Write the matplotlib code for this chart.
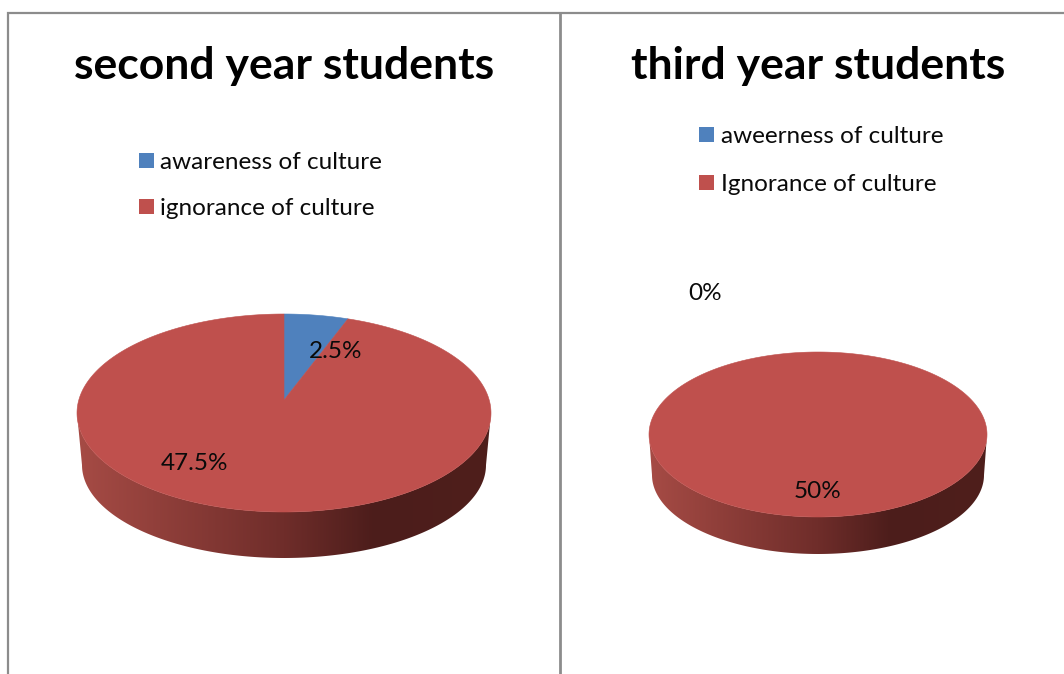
import numpy as np
import matplotlib
matplotlib.use("Agg")
import matplotlib.pyplot as plt
from matplotlib.colors import LinearSegmentedColormap
from matplotlib.patches import Polygon, Rectangle

plt.rcParams["font.family"] = ["Lato", "DejaVu Sans"]

# Chart content
second_title = "second year students"
second_categories = ["awareness of culture", "ignorance of culture"]
second_values = [2.5, 47.5]
third_title = "third year students"
third_categories = ["aweerness of culture", "Ignorance of culture"]
third_values = [0, 50]

BLUE = "#4f81bd"
RED = "#bf504d"
FRAME = "#8c8c8c"
INK = "#0a0a0a"
LABEL_SIZE = 17.5
TITLE_SIZE = 32
side_shade = LinearSegmentedColormap.from_list(
    "side", [(0, "#a64b45"), (0.5, "#6f2d2a"), (0.72, "#4c1d1b"), (1, "#4f1f1c")]
)

W, H = 1064, 674
fig = plt.figure(figsize=(W / 100, H / 100), dpi=100, facecolor="white")
ax = fig.add_axes([0, 0, 1, 1])
ax.set_xlim(0, W)
ax.set_ylim(H, 0)
ax.axis("off")

# Panel rules
ax.plot([8, 8, W], [H, 13, 13], color=FRAME, lw=1.6, solid_joinstyle="miter")
ax.plot([560, 560], [13, H], color=FRAME, lw=2)


def draw_pie(values, cx, cy, rx, ry, apex_y, low_cy, low_rx, low_ry):
    # Side wall: lower rim of the top face joined to the lower rim of the base
    t = np.linspace(0, np.pi, 200)
    top_rim = np.column_stack([cx + rx * np.cos(t), cy + ry * np.sin(t)])
    low_rim = np.column_stack([cx + low_rx * np.cos(t), low_cy + low_ry * np.sin(t)])
    wall = Polygon(np.vstack([top_rim, low_rim[::-1]]), closed=True,
                   facecolor="none", edgecolor="none")
    ax.add_patch(wall)
    img = ax.imshow(np.linspace(0, 1, 256)[None, :], cmap=side_shade, aspect="auto",
                    extent=[cx - rx, cx + rx, low_cy + low_ry, cy], zorder=2)
    img.set_clip_path(wall)
    ax.set_xlim(0, W)
    ax.set_ylim(H, 0)

    # Top face: slices run clockwise from twelve o'clock
    shares = np.asarray(values, dtype=float) / np.sum(values)
    colours = [BLUE, RED]
    start = 0.0
    for share, colour in zip(shares, colours):
        if share > 0:
            a = np.linspace(start, start + share, 400) * 2 * np.pi
            rim = np.column_stack([cx + rx * np.sin(a), cy - ry * np.cos(a)])
            if share < 1:
                pts = np.vstack([[cx, apex_y], rim])
            else:
                pts = rim
            ax.add_patch(Polygon(pts, closed=True, facecolor=colour,
                                 edgecolor=colour, lw=0.4, zorder=3))
        start += share


def draw_legend(categories, x, ys):
    for name, colour, y in zip(categories, [BLUE, RED], ys):
        ax.add_patch(Rectangle((x, y - 7.5), 15, 15, facecolor=colour,
                               edgecolor="none", zorder=4))
        ax.text(x + 22, y, name, fontsize=LABEL_SIZE, color=INK,
                va="center_baseline", ha="left", zorder=5)


def pct(v):
    return f"{v:g}%"


# Second year panel
ax.text(284, 62.5, second_title, fontsize=TITLE_SIZE, fontweight="bold", color="black",
        ha="center", va="center_baseline")
draw_legend(second_categories, 138.5, [160.5, 206.5])
draw_pie(second_values, 284, 413, 207, 99, 400, 465, 202, 93)
ax.text(336, 350, pct(second_values[0]), fontsize=LABEL_SIZE, ha="center",
        va="center_baseline", color=INK, zorder=6)
ax.text(194, 461, pct(second_values[1]), fontsize=LABEL_SIZE, ha="center",
        va="center_baseline", color=INK, zorder=6)

# Third year panel
ax.text(818, 62.5, third_title, fontsize=TITLE_SIZE, fontweight="bold", color="black",
        ha="center", va="center_baseline")
draw_legend(third_categories, 699, [134.5, 182.5])
draw_pie(third_values, 818, 434.5, 169, 82.5, 434.5, 475, 166, 79)
ax.text(705, 292, pct(third_values[0]), fontsize=LABEL_SIZE, ha="center",
        va="center_baseline", color=INK, zorder=6)
ax.text(818, 490, pct(third_values[1]), fontsize=LABEL_SIZE, ha="center",
        va="center_baseline", color=INK, zorder=6)

fig.savefig("out.png", dpi=100, facecolor="white")
